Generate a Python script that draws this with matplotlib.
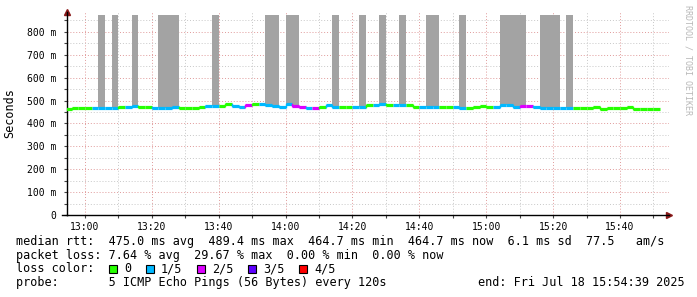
import matplotlib
matplotlib.use("Agg")
import matplotlib.pyplot as plt
import matplotlib.dates as mdates
from matplotlib.ticker import MultipleLocator, FuncFormatter
from matplotlib.patches import Rectangle
import pandas as pd

# -----------------------------
# 1. Data
# -----------------------------
first_step = "2025-07-18 12:54"
view_start = "2025-07-18 12:54:39"
view_end = "2025-07-18 15:54:39"

# median rtt per 2 minute step (ms)
median_ms = [465, 466, 467, 467, 466, 466, 466, 469, 473, 474,
             476, 473, 470, 467, 467, 469, 473, 467, 467, 467,
             470, 476, 477, 477, 483, 476, 474, 479, 485, 485,
             482, 476, 473, 485, 477, 470, 467, 466, 471, 480,
             473, 470, 473, 474, 474, 480, 482, 483, 482, 480,
             480, 480, 473, 473, 473, 471, 473, 474, 470, 469,
             469, 471, 476, 474, 474, 479, 479, 474, 476, 477,
             473, 469, 469, 469, 467, 469, 469, 469, 469, 470,
             465, 466, 467, 469, 470, 465, 465, 465, 465]

# lost pings (out of 5) per step
lost = [0, 0, 0, 0, 1, 1, 1, 1, 0, 1,
        1, 0, 0, 1, 1, 1, 1, 0, 0, 0,
        0, 1, 1, 0, 0, 1, 1, 2, 0, 1,
        1, 1, 1, 1, 2, 2, 1, 2, 0, 1,
        1, 0, 0, 1, 1, 0, 1, 1, 0, 1,
        1, 0, 0, 1, 1, 1, 0, 0, 1, 1,
        0, 0, 0, 0, 1, 1, 1, 1, 2, 2,
        1, 1, 1, 1, 1, 1, 0, 0, 0, 0,
        0, 0, 0, 0, 0, 0, 0, 0, 0]

# steps where the smoke reaches up to the slowest ping
spike_steps = ["13:04", "13:08", "13:14", "13:22", "13:24", "13:26", "13:38",
               "13:54", "13:56", "14:00", "14:02", "14:14", "14:22", "14:28",
               "14:34", "14:42", "14:44", "14:52", "15:04", "15:06", "15:08",
               "15:10", "15:16", "15:18", "15:20", "15:24"]
spike_top_ms = 873

loss_labels = ["0", "1/5", "2/5", "3/5", "4/5"]
loss_colors = ["#26ff00", "#00b8ff", "#dd00ff", "#5e00ff", "#ff0000"]

legend_rows = [
    "median rtt:  475.0 ms avg  489.4 ms max  464.7 ms min  464.7 ms now  6.1 ms sd  77.5   am/s",
    "packet loss: 7.64 % avg  29.67 % max  0.00 % min  0.00 % now",
    "loss color:",
    "probe:       5 ICMP Echo Pings (56 Bytes) every 120s",
]
end_text = "end: Fri Jul 18 15:54:39 2025"

# -----------------------------
# 2. Figure
# -----------------------------
W, H = 697, 297
mono = "DejaVu Sans Mono"
fig = plt.figure(figsize=(W / 100, H / 100), dpi=100)
ax = fig.add_axes([67 / W, (H - 215) / H, 602 / W, 203 / H])

t = pd.date_range(first_step, periods=len(median_ms), freq="2min")
step = pd.Timedelta("2min")
tn = mdates.date2num(t)
dt = mdates.date2num(t[0] + step) - tn[0]

# tall smoke
spike_t = pd.to_datetime(["2025-07-18 " + s for s in spike_steps])
for st in spike_t:
    i = list(t).index(st)
    ax.bar(tn[i], spike_top_ms - median_ms[i], bottom=median_ms[i], width=dt,
           align="edge", color="#a3a3a3", linewidth=0, zorder=2)

# median line coloured by loss
for i in range(len(median_ms)):
    c = loss_colors[lost[i]]
    ax.plot([tn[i], tn[i] + dt], [median_ms[i], median_ms[i]], color=c,
            lw=2.3, solid_capstyle="butt", zorder=3)
    if i > 0:
        ax.plot([tn[i], tn[i]], [median_ms[i - 1], median_ms[i]], color=c,
                lw=1.0, zorder=3)

ax.set_xlim(mdates.date2num(pd.Timestamp(view_start)), mdates.date2num(pd.Timestamp(view_end)))
ax.set_ylim(0, 887)

# grid
ax.xaxis.set_major_locator(mdates.MinuteLocator(byminute=[0, 20, 40]))
ax.xaxis.set_minor_locator(mdates.MinuteLocator(byminute=[10, 30, 50]))
ax.xaxis.set_major_formatter(mdates.DateFormatter("%H:%M"))
ax.yaxis.set_major_locator(MultipleLocator(100))
ax.yaxis.set_minor_locator(MultipleLocator(50))
ax.yaxis.set_major_formatter(FuncFormatter(lambda v, p: "0" if v == 0 else f"{int(v)} m"))
ax.grid(which="major", color="#e09a9a", linestyle=(0, (1, 2)), linewidth=0.7)
ax.grid(which="minor", color="#c8c8c8", linestyle=(0, (1, 2)), linewidth=0.7)
ax.set_axisbelow(True)

for s in ["top", "right"]:
    ax.spines[s].set_visible(False)
ax.spines["left"].set_linewidth(1.0)
ax.spines["bottom"].set_linewidth(1.0)
ax.tick_params(which="both", labelsize=7, length=2, width=0.8, color="#444444")
ax.tick_params(axis="y", pad=6)
ax.tick_params(axis="x", pad=3)
for lab in ax.get_xticklabels() + ax.get_yticklabels():
    lab.set_family(mono)

# x axis runs a little past the y axis, arrows at the ends
ax.plot([-5 / 602, 0], [0, 0], color="black", lw=1.0, transform=ax.transAxes, clip_on=False)
ax.plot([1.0], [0], marker=">", color="#8b1a1a", markersize=4, transform=ax.transAxes, clip_on=False)
ax.plot([0], [1.0], marker="^", color="#8b1a1a", markersize=4, transform=ax.transAxes, clip_on=False)

fig.text(10 / W, 1 - 113 / H, "Seconds", rotation=90, ha="center", va="center",
         family=mono, fontsize=8.5)
fig.text(688 / W, 1 - 60 / H, "RRDTOOL / TOBI OETIKER", rotation=270, ha="center",
         va="center", family=mono, fontsize=6, color="#b8b8b8")

# -----------------------------
# 3. Legend text
# -----------------------------
row_y = [241.5, 255, 269, 282.5]
for txt, y in zip(legend_rows, row_y):
    fig.text(16 / W, 1 - y / H, txt, ha="left", va="center", family=mono, fontsize=8.5)
fig.text(478 / W, 1 - row_y[3] / H, end_text, ha="left", va="center", family=mono, fontsize=8.5)

box_x = [108.5, 145.5, 196.5, 247.5, 298.5]
for bx, col, lab in zip(box_x, loss_colors, loss_labels):
    fig.patches.append(Rectangle((bx / W, 1 - (row_y[2] + 4) / H), 8 / W, 8 / H,
                                 transform=fig.transFigure, facecolor=col,
                                 edgecolor="black", linewidth=0.8))
    fig.text((bx + 15.5) / W, 1 - row_y[2] / H, lab, ha="left", va="center",
             family=mono, fontsize=8.5)

fig.savefig("out.png", dpi=100)
